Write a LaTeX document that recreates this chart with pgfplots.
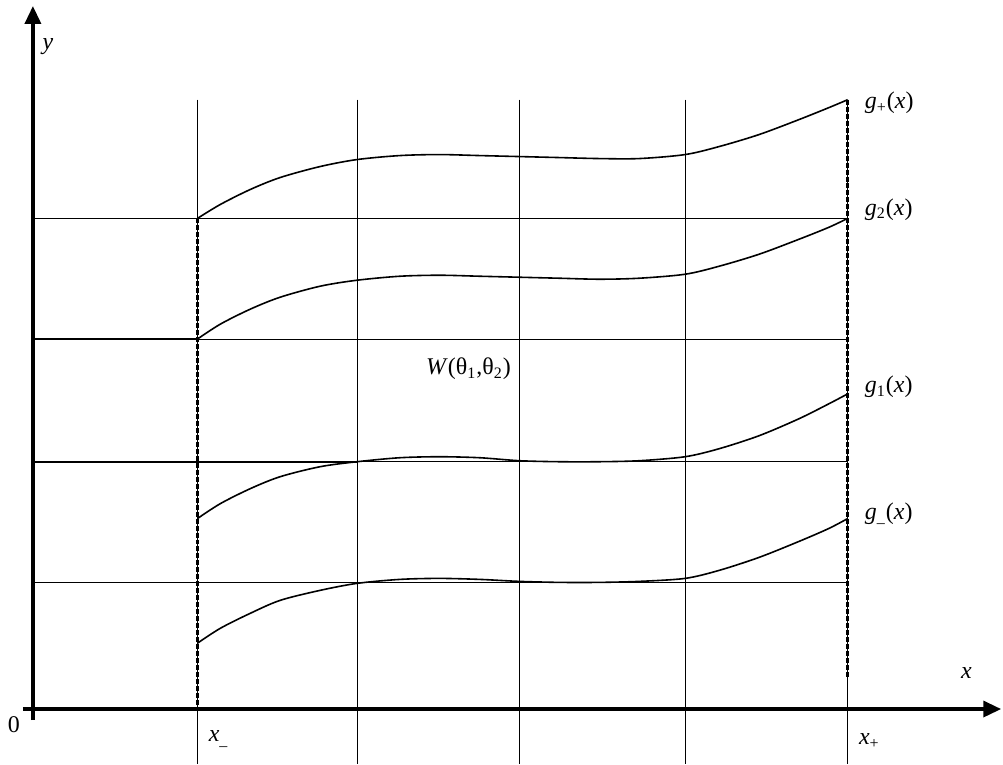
\documentclass[border=0pt]{standalone}
\usepackage{fontspec}
\setmainfont{Liberation Serif}
\usepackage{pgfplots}
\pgfplotsset{compat=1.18}
\usetikzlibrary{arrows.meta}
\begin{document}
\fontsize{12}{14}\selectfont
\begin{tikzpicture}
\begin{axis}[
  width=501.5pt, height=383pt, scale only axis,
  xmin=0, xmax=1003, ymin=0, ymax=766,
  hide axis, clip=false,
  y dir=reverse,
]
\path (axis cs:0,0) rectangle (axis cs:1003,766);
% vertical grid lines
\addplot[black, line width=0.5pt] coordinates {(197,100) (197,766)};
\addplot[black, line width=0.5pt] coordinates {(357,100) (357,766)};
\addplot[black, line width=0.5pt] coordinates {(520,100) (520,766)};
\addplot[black, line width=0.5pt] coordinates {(686,100) (686,766)};
\addplot[black, line width=0.5pt] coordinates {(849,100) (849,766)};
% horizontal lines
\addplot[black, line width=0.5pt] coordinates {(32,219) (849,219)};
\addplot[black, line width=0.5pt] coordinates {(32,340) (849,340)};
\addplot[black, line width=0.5pt] coordinates {(32,463) (849,463)};
\addplot[black, line width=0.5pt] coordinates {(32,584) (849,584)};
\addplot[black, line width=0.8pt] coordinates {(32,340) (197,340)};
\addplot[black, line width=0.8pt] coordinates {(32,463) (357,463)};
% dashed verticals
\addplot[black, line width=1.4pt, dash pattern=on 2.5pt off 1pt] coordinates {(197,219) (197,711)};
\addplot[black, line width=1.4pt, dash pattern=on 2.5pt off 1pt] coordinates {(849,100) (849,680)};
% curves
\addplot[black, line width=0.8pt, smooth] coordinates {(197,219) (220,205) (250,190) (280,178) (320,167) (357,160) (400,156) (440,155) (480,156) (520,157) (560,158) (600,159) (640,159) (686,155) (720,147) (760,135) (800,120) (830,108) (849,100)};
\addplot[black, line width=0.8pt, smooth] coordinates {(197,340) (220,325) (250,310) (280,298) (320,287) (357,281) (400,277) (440,276) (480,277) (520,278) (560,279) (600,280) (640,279) (686,275) (720,267) (760,255) (800,240) (830,228) (849,219)};
\addplot[black, line width=0.8pt, smooth] coordinates {(197,520) (220,505) (250,490) (280,478) (320,468) (357,463) (400,459) (440,458) (480,459) (520,462) (560,463) (600,463) (640,462) (686,458) (720,450) (760,437) (800,420) (830,405) (849,395)};
\addplot[black, line width=0.8pt, smooth] coordinates {(197,645) (220,630) (250,615) (280,602) (320,592) (357,585) (400,581) (440,580) (480,581) (520,583) (560,584) (600,584) (640,583) (686,580) (720,572) (760,559) (800,543) (830,530) (849,520)};
% axes
\addplot[black, line width=1.8pt, -{Triangle[length=9pt,width=8pt]}] coordinates {(22,711) (1003,711)};
\addplot[black, line width=1.8pt, -{Triangle[length=9pt,width=8pt]}] coordinates {(32,722) (32,6)};
% labels
\node at (axis cs:47,47) {\textit{y}};
\node at (axis cs:968,675) {\textit{x}};
\node at (axis cs:13,727) {0};
\node[anchor=west] at (axis cs:200,741) {\textit{x}\textsubscript{\_}};
\node[anchor=west] at (axis cs:852,743) {\textit{x}\textsubscript{+}};
\node[anchor=west] at (axis cs:858,103) {\textit{g}\textsubscript{+}(\textit{x})};
\node[anchor=west] at (axis cs:858,210) {\textit{g}\textsubscript{2}(\textit{x})};
\node[anchor=west] at (axis cs:858,388) {\textit{g}\textsubscript{1}(\textit{x})};
\node[anchor=west] at (axis cs:858,515) {\textit{g}\textsubscript{\_}(\textit{x})};
\node[anchor=west] at (axis cs:418,370) {\textit{W}(θ\textsubscript{1},θ\textsubscript{2})};
\end{axis}
\end{tikzpicture}
\end{document}
